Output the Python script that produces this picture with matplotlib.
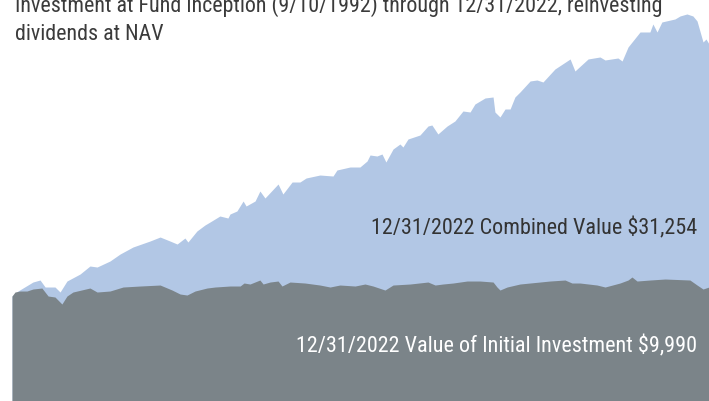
import numpy as np
import matplotlib
matplotlib.use("Agg")
import matplotlib.pyplot as plt

# growth of $10,000
combined_years = [1992.69, 1992.95, 1993.60, 1993.91, 1994.13, 1994.56, 1994.78, 1995.08, 1995.65, 1996.08,
                  1996.39, 1996.95, 1997.39, 1997.95, 1998.69, 1999.13, 1999.56, 1999.87, 2000.21, 2000.34,
                  2000.73, 2001.08, 2001.30, 2001.73, 2002.08, 2002.17, 2002.47, 2002.74, 2002.87, 2003.26,
                  2003.47, 2003.69, 2004.26, 2004.47, 2004.87, 2005.21, 2005.48, 2006.08, 2006.65, 2006.82,
                  2007.39, 2007.82, 2008.13, 2008.26, 2008.56, 2008.78, 2008.95, 2009.26, 2009.56, 2009.69,
                  2009.91, 2010.43, 2010.78, 2010.95, 2011.21, 2011.61, 2011.95, 2012.30, 2012.61, 2012.82,
                  2013.26, 2013.61, 2013.69, 2013.91, 2014.13, 2014.35, 2014.56, 2014.78, 2015.22, 2015.52,
                  2015.78, 2016.30, 2016.96, 2017.17, 2017.74, 2018.26, 2018.48, 2019.04, 2019.22, 2019.48,
                  2020.00, 2020.43, 2020.56, 2020.74, 2020.95, 2021.52, 2021.74, 2022.04, 2022.30, 2022.48,
                  2022.74, 2022.87, 2023.00]
combined_value = [10000, 10424, 11183, 11352, 10762, 10762, 10340, 11268, 11858, 12533,
                  12448, 12954, 13545, 14135, 14641, 14978, 14641, 14388, 14894, 14557,
                  15485, 15991, 16243, 16750, 16581, 16919, 17172, 18015, 17593, 18015,
                  18858, 18268, 19449, 18605, 19617, 19617, 19955, 20207, 20123, 20629,
                  20882, 20882, 21389, 21895, 21810, 21979, 21304, 22400, 22822, 22569,
                  23244, 23581, 24340, 24425, 23666, 24340, 24762, 25606, 25521, 26196,
                  26702, 26787, 25521, 25099, 25774, 25774, 26787, 27208, 28136, 28220,
                  28051, 29148, 29991, 28979, 29991, 30160, 29907, 30075, 29822, 31003,
                  32268, 32268, 32943, 32268, 33112, 33365, 33618, 33787, 33618, 33196,
                  31425, 31678, 31254]

initial_years = [1992.69, 1992.82, 1993.04, 1993.34, 1993.60, 1993.99, 1994.26, 1994.56, 1994.86, 1995.08,
                 1995.34, 1996.08, 1996.39, 1996.95, 1997.52, 1998.26, 1999.13, 1999.65, 2000.00, 2000.30,
                 2000.65, 2001.17, 2001.52, 2002.17, 2002.61, 2002.78, 2003.04, 2003.47, 2003.61, 2003.91,
                 2004.26, 2004.43, 2004.78, 2005.43, 2006.08, 2006.52, 2006.95, 2007.61, 2008.04, 2008.39,
                 2008.91, 2009.26, 2010.00, 2010.78, 2011.09, 2011.43, 2011.87, 2012.48, 2013.04, 2013.61,
                 2013.78, 2013.91, 2014.22, 2014.78, 2015.65, 2016.08, 2016.74, 2017.04, 2017.39, 2018.13,
                 2018.48, 2019.13, 2019.48, 2019.65, 2019.87, 2020.43, 2021.09, 2022.17, 2022.48, 2022.74,
                 2023.00]
initial_value = [10000, 10340, 10424, 10424, 10593, 10677, 10003, 9918, 9328, 10003,
                 10340, 10677, 10340, 10424, 10762, 10846, 10930, 10508, 10171, 10087,
                 10424, 10677, 10762, 10846, 10846, 11099, 11015, 11352, 11015, 11183,
                 11267, 10846, 11183, 11099, 10930, 10762, 10930, 10846, 11015, 10846,
                 10508, 10930, 11015, 11183, 10930, 11015, 11099, 11267, 11267, 11183,
                 10762, 10508, 10762, 11015, 11183, 11267, 11352, 11099, 11099, 10930,
                 10762, 11099, 11352, 11605, 11267, 11352, 11436, 11352, 10930, 10593,
                 10762]

title_lines = ["Investment at Fund Inception (9/10/1992) through 12/31/2022, reinvesting",
               "dividends at NAV"]
combined_label = "12/31/2022 Combined Value $31,254"
initial_label = "12/31/2022 Value of Initial Investment $9,990"

blue = "#b2c7e5"
gray = "#7b8489"
font = ["Roboto Condensed", "PT Sans Narrow", "DejaVu Sans"]

fig = plt.figure(figsize=(7.09, 4.02), dpi=100)
ax = fig.add_axes([0, 0, 1, 1])
ax.fill_between(combined_years, 0, combined_value, color=blue, lw=0)
ax.fill_between(initial_years, 0, initial_value, color=gray, lw=0)
ax.set_xlim(1992.168, 2023.0)
ax.set_ylim(1150, 35050)
ax.axis("off")

# title is cut at the top edge in the reference, each line placed by its baseline
for line, base in zip(title_lines, [12, 40]):
    fig.text(15 / 709, 1 - base / 402, line, family=font, fontsize=15.8, color="#3b3b3b",
             va="baseline", ha="left")
fig.text(697 / 709, 1 - 228 / 402, combined_label, family=font, fontsize=15.9, color="#333333",
         va="center", ha="right")
fig.text(697 / 709, 1 - 346 / 402, initial_label, family=font, fontsize=15.9, color="white",
         va="center", ha="right")

fig.savefig("out.png", dpi=100)
